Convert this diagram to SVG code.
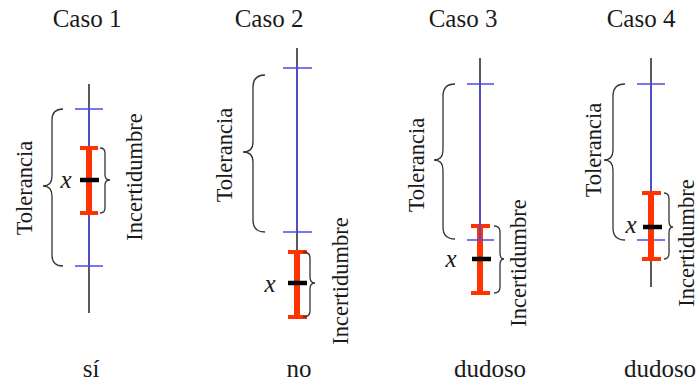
<svg xmlns="http://www.w3.org/2000/svg" width="699" height="385" viewBox="0 0 699 385">
<style>
text{font-family:"Liberation Serif","DejaVu Serif","Noto Serif",serif;fill:#1a1a1a}
.t{font-size:25px;text-anchor:middle}
.r{font-size:22.5px;text-anchor:middle}
.x{font-size:25px;font-style:italic;text-anchor:middle}
.axis{stroke:#222;stroke-width:1.5;fill:none}
.tol{stroke:#4a4aee;stroke-width:1.5;fill:none}
.unc{stroke:#ff3300;fill:none}
.uv{stroke-width:6}
.uc{stroke-width:4}
.m{stroke:#000;stroke-width:4.5}
.br{stroke:#333;stroke-width:1.3;fill:none}
</style>
<rect width="699" height="385" fill="#fff"/>

<g id="caso1">
<text class="t" x="87" y="27">Caso 1</text>
<line class="axis" x1="89" y1="84" x2="89" y2="313"/>
<line class="tol" x1="89" y1="109" x2="89" y2="266"/>
<line class="tol" x1="75" y1="109" x2="103" y2="109"/>
<line class="tol" x1="75" y1="266" x2="103" y2="266"/>
<line class="unc uv" x1="89" y1="148" x2="89" y2="213"/>
<line class="unc uc" x1="80" y1="148" x2="98" y2="148"/>
<line class="unc uc" x1="80" y1="213" x2="98" y2="213"/>
<line class="m" x1="80" y1="180" x2="99" y2="180"/>
<text class="x" x="66" y="188">x</text>
<path class="br" d="M63,109 Q52,109 52,120 L52,176 Q52,186 43,186 Q52,186 52,196 L52,255 Q52,266 63,266"/>
<path class="br" d="M100,148 Q105,148 105,153 L105,175 Q105,180 110,180 Q105,180 105,185 L105,208 Q105,213 100,213"/>
<text class="r" transform="translate(32,188) rotate(-90)">Tolerancia</text>
<text class="r" transform="translate(142,177) rotate(-90)">Incertidumbre</text>
<text class="t" x="91" y="377">sí</text>
</g>

<g id="caso2">
<text class="t" x="269" y="27">Caso 2</text>
<line class="axis" x1="297" y1="48" x2="297" y2="317"/>
<line class="tol" x1="297" y1="68" x2="297" y2="232"/>
<line class="tol" x1="283" y1="68" x2="312" y2="68"/>
<line class="tol" x1="283" y1="232" x2="312" y2="232"/>
<line class="unc uv" x1="297" y1="252" x2="297" y2="317"/>
<line class="unc uc" x1="288" y1="252" x2="307" y2="252"/>
<line class="unc uc" x1="288" y1="317" x2="307" y2="317"/>
<line class="m" x1="288" y1="283" x2="307" y2="283"/>
<text class="x" x="270" y="292">x</text>
<path class="br" d="M265,75 Q253,75 253,87 L253,142 Q253,152 243,152 Q253,152 253,162 L253,220 Q253,232 265,232"/>
<path class="br" d="M303,252 Q310,252 310,258 L310,277 Q310,283 315,283 Q310,283 310,289 L310,311 Q310,317 303,317"/>
<text class="r" transform="translate(232,155) rotate(-90)">Tolerancia</text>
<text class="r" transform="translate(348,281) rotate(-90)">Incertidumbre</text>
<text class="t" x="299" y="377">no</text>
</g>

<g id="caso3">
<text class="t" x="463" y="27">Caso 3</text>
<line class="axis" x1="480" y1="58" x2="480" y2="293"/>
<line class="unc uv" x1="480" y1="226" x2="480" y2="293"/>
<line class="unc uc" x1="471" y1="226" x2="490" y2="226"/>
<line class="unc uc" x1="471" y1="293" x2="490" y2="293"/>
<line class="tol" x1="480" y1="84" x2="480" y2="240"/>
<line class="tol" x1="467" y1="84" x2="494" y2="84"/>
<line class="tol" x1="467" y1="240" x2="494" y2="240"/>
<line class="m" x1="472" y1="259" x2="491" y2="259"/>
<text class="x" x="451" y="267">x</text>
<path class="br" d="M455,84 Q443,84 443,96 L443,150 Q443,160 434,160 Q443,160 443,170 L443,227 Q443,239 455,239"/>
<path class="br" d="M494,226 Q500,226 500,232 L500,253 Q500,259 504,259 Q500,259 500,265 L500,287 Q500,293 494,293"/>
<text class="r" transform="translate(424,165) rotate(-90)">Tolerancia</text>
<text class="r" transform="translate(526,263) rotate(-90)">Incertidumbre</text>
<text class="t" x="490" y="377">dudoso</text>
</g>

<g id="caso4">
<text class="t" x="641" y="27">Caso 4</text>
<line class="axis" x1="651" y1="58" x2="651" y2="287"/>
<line class="tol" x1="651" y1="84" x2="651" y2="240"/>
<line class="tol" x1="637" y1="84" x2="665" y2="84"/>
<line class="tol" x1="637" y1="240" x2="665" y2="240"/>
<line class="unc uv" x1="651" y1="193" x2="651" y2="259"/>
<line class="unc uc" x1="642" y1="193" x2="661" y2="193"/>
<line class="unc uc" x1="642" y1="259" x2="661" y2="259"/>
<line class="m" x1="643" y1="227" x2="662" y2="227"/>
<text class="x" x="631" y="233">x</text>
<path class="br" d="M625,84 Q613,84 613,96 L613,150 Q613,160 604,160 Q613,160 613,170 L613,228 Q613,240 625,240"/>
<path class="br" d="M664,193 Q669,193 669,199 L669,221 Q669,227 673,227 Q669,227 669,233 L669,253 Q669,259 664,259"/>
<text class="r" transform="translate(601,150) rotate(-90)">Tolerancia</text>
<text class="r" transform="translate(694,243) rotate(-90)">Incertidumbre</text>
<text class="t" x="660" y="377">dudoso</text>
</g>

<g id="connectors"></g>
</svg>
